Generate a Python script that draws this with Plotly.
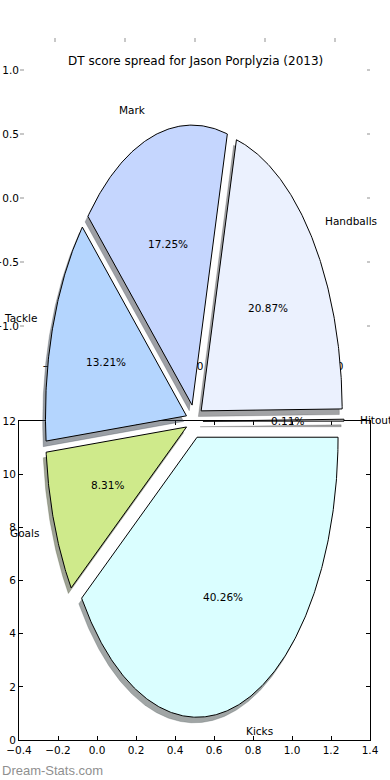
import numpy as np
import plotly.graph_objects as go

# ---- data ----
labels = ["Hitout", "Handballs", "Mark", "Tackle", "Goals", "Kicks"]
percent = [0.11, 20.87, 17.25, 13.21, 8.31, 40.26]
colors = ["#E6E6E6", "#EBF1FE", "#C5D6FE", "#B4D5FE", "#CFEA8B", "#DAFEFF"]
explode = [0.06, 0.06, 0.06, 0.06, 0.06, 0.06]

bottom_xticks = [-0.4, -0.2, 0.0, 0.2, 0.4, 0.6, 0.8, 1.0, 1.2, 1.4]
bottom_yticks = [0, 2, 4, 6, 8, 10, 12]
top_ticks = [-1.0, -0.5, 0.0, 0.5, 1.0]
title = "DT score spread for Jason Porplyzia (2013)"
watermark = "Dream-Stats.com"

FONT = "DejaVu Sans"
W, H = 390, 780


def fmt(v, dec=1):
    s = f"{abs(v):.{dec}f}"
    return ("\u2212" + s) if v < 0 else s


def hex_rgb(h):
    h = h.lstrip("#")
    return [int(h[i:i + 2], 16) for i in (0, 2, 4)]


fig = go.Figure()

# empty traces so that the two background axes systems exist
fig.add_trace(go.Scatter(x=[None], y=[None], xaxis="x", yaxis="y", mode="markers",
                         showlegend=False, hoverinfo="skip"))
fig.add_trace(go.Scatter(x=[None], y=[None], xaxis="x2", yaxis="y2", mode="markers",
                         showlegend=False, hoverinfo="skip"))

vals = np.array(percent, dtype=float)
frac = vals / vals.sum()
edges = np.concatenate([[0.0], np.cumsum(frac)]) * 360.0

wedges = []
for i, lab in enumerate(labels):
    t1, t2 = edges[i], edges[i + 1]
    mid = np.deg2rad((t1 + t2) / 2)
    cx, cy = explode[i] * np.cos(mid), explode[i] * np.sin(mid)
    n = max(3, int((t2 - t1) * 2) + 2)
    ts = np.deg2rad(np.linspace(t1, t2, n))
    xs = np.concatenate([[cx], cx + np.cos(ts), [cx]])
    ys = np.concatenate([[cy], cy + np.sin(ts), [cy]])
    wedges.append((lab, xs, ys, cx, cy, mid, i))

# shadows first (below wedges)
for lab, xs, ys, cx, cy, mid, i in wedges:
    r, g, b = hex_rgb(colors[i])
    sc = f"rgba({int(0.3 * r)},{int(0.3 * g)},{int(0.3 * b)},0.5)"
    fig.add_trace(go.Scatter(x=xs - 0.02, y=ys - 0.02, mode="lines", fill="toself",
                             fillcolor=sc, line=dict(color=sc, width=0.5),
                             xaxis="x3", yaxis="y3", hoverinfo="skip", showlegend=False))

for lab, xs, ys, cx, cy, mid, i in wedges:
    fig.add_trace(go.Scatter(x=xs, y=ys, mode="lines", fill="toself",
                             fillcolor=colors[i], line=dict(color="black", width=1),
                             xaxis="x3", yaxis="y3", name=lab, showlegend=False))

annotations = []
for lab, xs, ys, cx, cy, mid, i in wedges:
    c, s = np.cos(mid), np.sin(mid)
    annotations.append(dict(x=cx + 1.1 * c, y=cy + 1.1 * s, xref="x3", yref="y3",
                            text=lab, showarrow=False,
                            xanchor="left" if c > 0 else "right", yanchor="middle",
                            font=dict(family=FONT, size=10.5, color="black")))
    annotations.append(dict(x=cx + 0.6 * c, y=cy + 0.6 * s, xref="x3", yref="y3",
                            text=f"{percent[i]:.2f}%", showarrow=False,
                            xanchor="center", yanchor="middle",
                            font=dict(family=FONT, size=10.5, color="black")))

annotations.append(dict(x=195 / W, y=1 - 61 / H, xref="paper", yref="paper", text=title,
                        showarrow=False, xanchor="center", yanchor="middle",
                        font=dict(family=FONT, size=12, color="black")))
annotations.append(dict(x=0, y=1 - 770 / H, xref="paper", yref="paper", text=watermark,
                        showarrow=False, xanchor="left", yanchor="middle",
                        font=dict(family="Liberation Sans", size=13, color="#8f8f8f")))

tickfont = dict(family=FONT, size=10.5, color="black")

fig.update_layout(
    width=W, height=H,
    margin=dict(l=0, r=0, t=0, b=0),
    paper_bgcolor="white", plot_bgcolor="rgba(0,0,0,0)",
    showlegend=False,
    annotations=annotations,
    # bottom axes
    xaxis=dict(domain=[19 / W, 370 / W], anchor="y", range=[-0.4, 1.4],
               tickvals=bottom_xticks, ticktext=[fmt(v) for v in bottom_xticks],
               ticks="inside", ticklen=4, tickcolor="black", showline=True,
               linecolor="black", linewidth=1, mirror="ticks", showgrid=False,
               zeroline=False, tickfont=tickfont, automargin=False),
    yaxis=dict(domain=[40 / H, 359 / H], anchor="x", range=[0, 12],
               tickvals=bottom_yticks, ticktext=[str(v) for v in bottom_yticks],
               ticks="inside", ticklen=4, tickcolor="black", showline=True,
               linecolor="black", linewidth=1, mirror="ticks", showgrid=False,
               zeroline=False, tickfont=tickfont, automargin=False),
    # ghost top axes
    xaxis2=dict(domain=[20 / W, 370 / W], anchor="y2", range=[-1.25, 1.25],
                tickvals=top_ticks, ticktext=[fmt(v) for v in top_ticks],
                ticks="inside", ticklen=3.5, tickwidth=1.5, tickcolor="#c8c8c8",
                showline=False, mirror="ticks", showgrid=False, zeroline=False,
                tickfont=tickfont, automargin=False),
    yaxis2=dict(domain=[422 / H, 742 / H], anchor="x2", range=[-1.25, 1.25],
                tickvals=top_ticks, ticktext=[fmt(v) for v in top_ticks],
                ticks="inside", ticklen=3.5, tickwidth=1.5, tickcolor="#c8c8c8",
                showline=False, mirror="ticks", showgrid=False, zeroline=False,
                tickfont=tickfont, automargin=False),
    # pie axes (full page)
    xaxis3=dict(domain=[0, 1], anchor="y3", range=[-194.5 / 141, 195.5 / 141],
                visible=False, showgrid=False, zeroline=False),
    yaxis3=dict(domain=[0, 1], anchor="x3", range=[-358.8 / 280, 421.2 / 280],
                visible=False, showgrid=False, zeroline=False),
)

fig.write_html("out.html", config={"displayModeBar": False},
               post_script="document.body.style.margin='0px';")
